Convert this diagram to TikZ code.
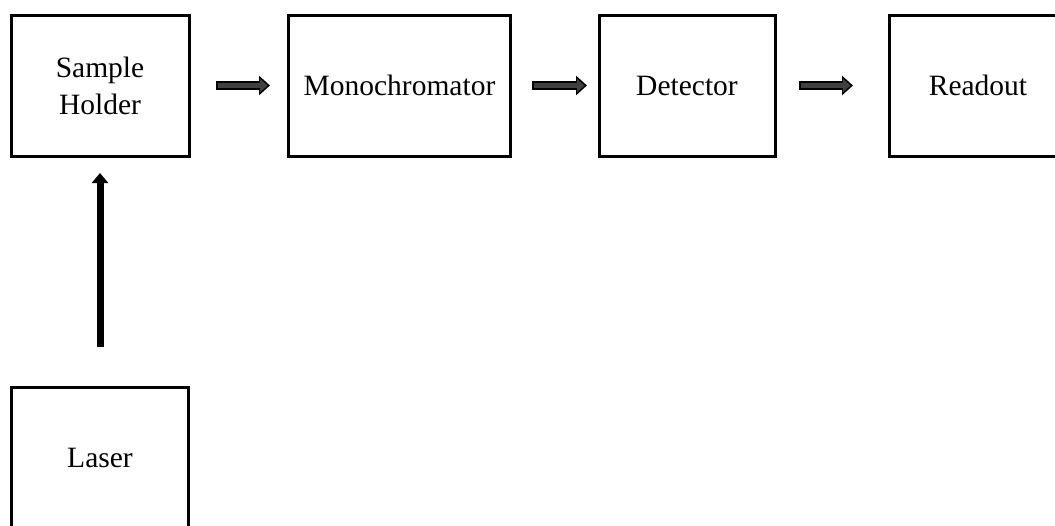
\documentclass[tikz,border=0pt]{standalone}
\usepackage{fontspec}
\setmainfont{Liberation Serif}
\usetikzlibrary{arrows.meta}
\tikzset{
  blk/.style={draw=black, line width=3pt, inner sep=0pt, outer sep=0pt,
    minimum height=141pt, align=center,
    font=\fontsize{29.5}{37}\selectfont},
  flowout/.style={draw=black, line width=9pt,
    -{Triangle[width=19pt,length=11pt]}},
  flowin/.style={draw=black!75, line width=5.5pt,
    -{Triangle[width=13pt,length=7.5pt]}},
  beam/.style={draw=black, line width=7pt,
    -{Triangle[width=16pt,length=10pt]}}
}
\begin{document}
\begin{tikzpicture}[x=1pt,y=-1pt]
\useasboundingbox (0,0) rectangle (1055,525);
\clip (0,0) rectangle (1055,525);
\node[blk, minimum width=178pt] (sh) at (100,85.5) {Sample\\Holder};
\node[blk, minimum width=222pt] (mono) at (399.5,85.5) {Monochromator};
\node[blk, minimum width=176pt] (det) at (687,85.5) {Detector};
\node[blk, minimum width=178pt] (ro) at (978,85.5) {Readout};
\node[blk, minimum width=177pt, minimum height=142pt] (laser) at (100,458) {Laser};
% horizontal block arrows
\draw[flowout, shorten <=27pt, shorten >=18.5pt] (sh.east) -- (mono.west);
\draw[flowin, shorten <=28.5pt, shorten >=21pt] (sh.east) -- (mono.west);
\draw[flowout, shorten <=21.5pt, shorten >=12pt] (mono.east) -- (det.west);
\draw[flowin, shorten <=23pt, shorten >=14.5pt] (mono.east) -- (det.west);
\draw[flowout, shorten <=24pt, shorten >=36pt] (det.east) -- (ro.west);
\draw[flowin, shorten <=25.5pt, shorten >=38.5pt] (det.east) -- (ro.west);
% vertical arrow
\draw[beam, shorten <=40pt, shorten >=17pt] (laser.north) -- (sh.south);
\end{tikzpicture}
\end{document}
